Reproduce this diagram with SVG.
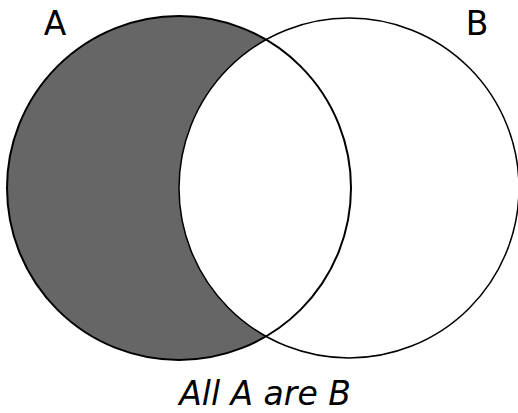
<svg xmlns="http://www.w3.org/2000/svg" width="518" height="413" viewBox="0 0 518 413">
<style>
.lbl{font-family:"DejaVu Sans","Liberation Sans",sans-serif;font-size:33px;fill:#000}
.cap{font-style:italic}
</style>
<rect width="518" height="413" fill="#fff"/>
<g id="setA-fill"><circle cx="179" cy="188" r="172" fill="#666666"/></g>
<g id="setB"><circle cx="349" cy="188" r="170" fill="#fff" stroke="#000" stroke-width="1.5"/></g>
<g id="setA"><circle cx="179" cy="188" r="172" fill="none" stroke="#000" stroke-width="2"/></g>
<g id="labels">
<text class="lbl" x="55" y="35" text-anchor="middle">A</text>
<text class="lbl" x="477" y="35" text-anchor="middle">B</text>
<text class="lbl cap" x="265" y="405" text-anchor="middle">All A are B</text>
</g>
</svg>
